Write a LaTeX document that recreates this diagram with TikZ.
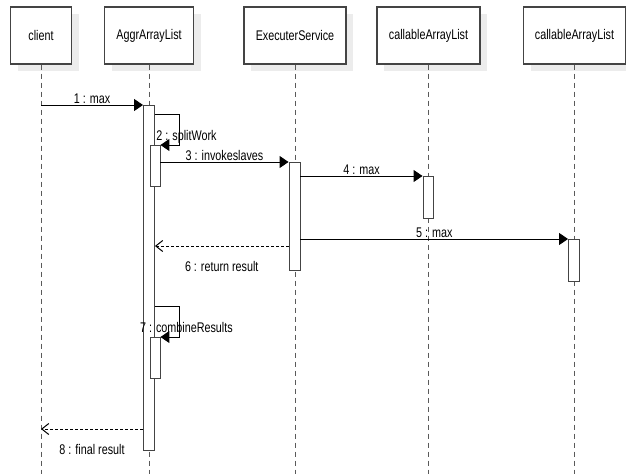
\documentclass[tikz,border=0pt]{standalone}
\usepackage{fontspec}
\setmainfont{Liberation Sans}[FakeStretch=0.77]
\usetikzlibrary{arrows.meta,shadows,calc}
\definecolor{boxgray}{RGB}{68,68,68}
\definecolor{shadowgray}{RGB}{236,236,236}
\definecolor{lifegray}{RGB}{90,90,90}

\begin{document}
\begin{tikzpicture}[
  x=1pt, y=-1pt,
  font=\fontsize{14}{16}\selectfont,
  obj/.style={rectangle,draw=boxgray,line width=1.2pt,fill=white,minimum height=57pt,inner sep=0pt,
    drop shadow={shadow xshift=7pt,shadow yshift=-7pt,fill=shadowgray,opacity=1}},
  act/.style={rectangle,draw=boxgray,line width=0.9pt,fill=white,minimum width=11pt,inner sep=0pt,anchor=north},
  life/.style={dash pattern=on 5pt off 4pt,color=lifegray,line width=0.8pt},
  msg/.style={-{Triangle[length=9pt,width=12pt]},line width=1pt},
  ret/.style={-{Straight Barb[length=7pt,width=11pt]},dash pattern=on 3pt off 2pt,line width=1pt},
  lbl/.style={inner sep=1pt},
]
\useasboundingbox (0,0) rectangle (626,474);

% Objects
\node[obj,minimum width=61pt] (client) at (41,35.5) {client};
\node[obj,minimum width=89pt] (aggr) at (149,35.5) {AggrArrayList};
\node[obj,minimum width=102pt] (exec) at (295,35.5) {ExecuterService};
\node[obj,minimum width=103pt] (callA) at (428.5,35.5) {callableArrayList};
\node[obj,minimum width=102pt] (callB) at (574.5,35.5) {callableArrayList};

% Lifelines
\draw[life] (client.south) -- (client.south |- 0,474);
\draw[life] (aggr.south) -- (aggr.south |- 0,474);
\draw[life] (exec.south) -- (exec.south |- 0,474);
\draw[life] (callA.south) -- (callA.south |- 0,474);
\draw[life] (callB.south) -- (callB.south |- 0,474);

% Activations
\node[act,minimum height=345pt] (act1) at (149,105) {};
\node[act,minimum width=10pt,minimum height=41pt] (act2) at (155,145) {};
\node[act,minimum height=108pt] (act3) at (294.5,162) {};
\node[act,minimum width=10pt,minimum height=42pt] (act4) at (428,176) {};
\node[act,minimum height=42pt] (act5) at (574,239) {};
\node[act,minimum width=10pt,minimum height=41pt] (act6) at (155,337) {};

% Messages
\draw[msg] (client |- act1.north) -- node[lbl,above]{1 : max} (act1.north west);
\draw[msg] ([yshift=-9pt]act1.north east) -| node[lbl,pos=0.87,xshift=7pt]{2 : splitWork}
  ([xshift=19pt]act2.north east) -- (act2.north east);
\draw[msg] (act2.east |- act3.north) -- node[lbl,above]{3 : invokeslaves} (act3.north west);
\draw[msg] (act3.east |- act4.north) -- node[lbl,above]{4 : max} (act4.north west);
\draw[msg] (act3.east |- act5.north) -- node[lbl,above]{5 : max} (act5.north west);

% Returns
\coordinate (r6) at ([yshift=-84pt]act3.north west);
\draw[ret] (r6) -- node[lbl,below=14pt]{6 : return result} (act1.east |- r6);

\draw[msg] ([yshift=-201pt]act1.north east) -| node[lbl,pos=0.85,xshift=7pt]{7 : combineResults}
  ([xshift=19pt]act6.north east) -- (act6.north east);

\coordinate (r8) at ([yshift=-324pt]act1.north west);
\draw[ret] (r8) -- node[lbl,below=14pt]{8 : final result} (client |- r8);

\end{tikzpicture}
\end{document}
